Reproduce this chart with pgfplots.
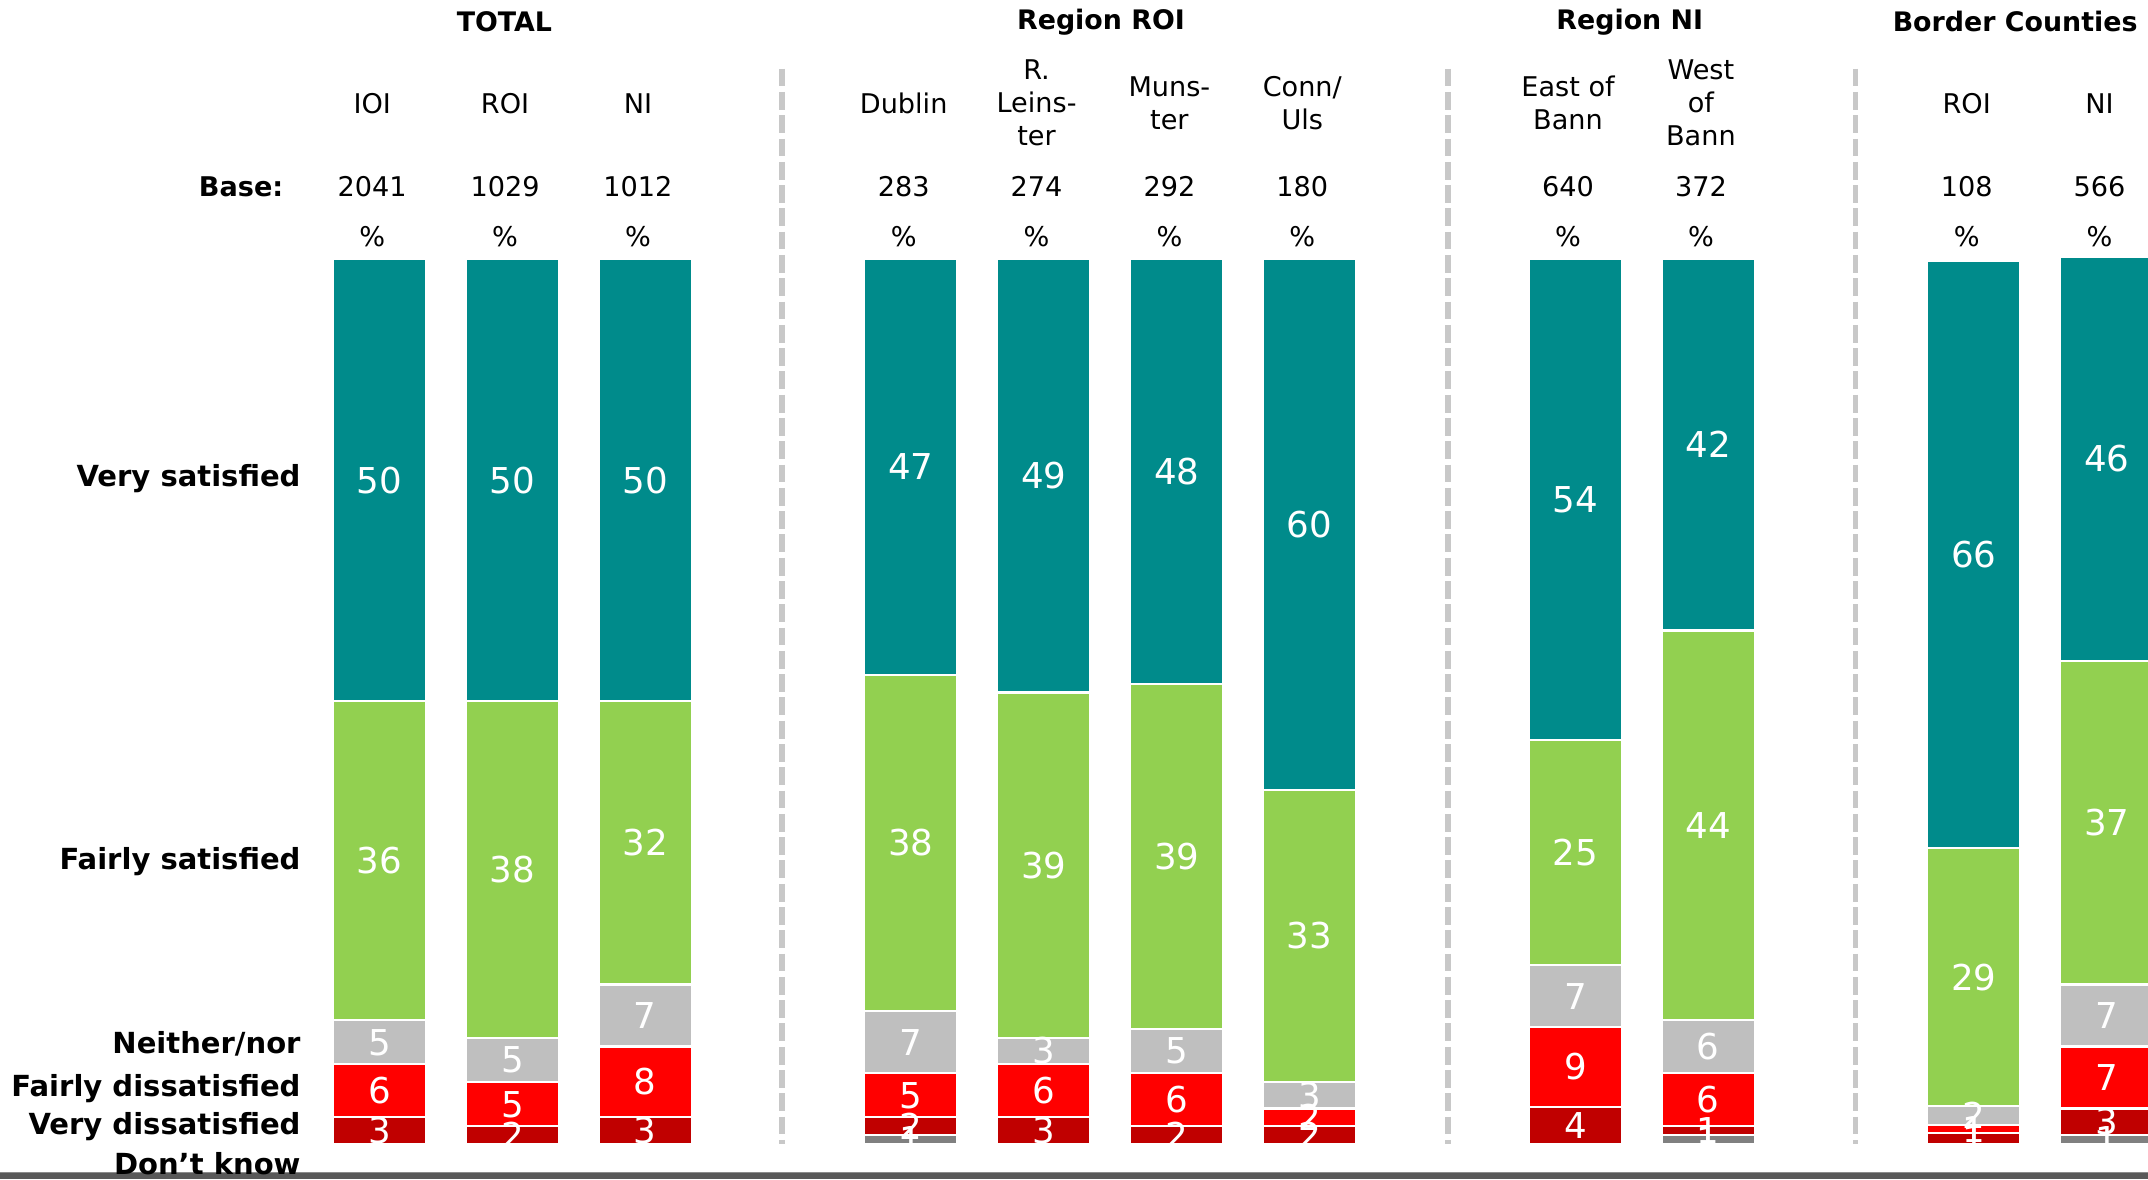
\documentclass[border=0pt]{standalone}
\usepackage{fontspec}
\setmainfont{DejaVu Sans}
\usepackage{pgfplots}
\pgfplotsset{compat=1.18}
\usepackage{pgfplotstable}
\definecolor{cVS}{HTML}{008B8B}
\definecolor{cFS}{HTML}{92D050}
\definecolor{cN}{HTML}{BFBFBF}
\definecolor{cFD}{HTML}{FF0000}
\definecolor{cVD}{HTML}{C00000}
\definecolor{cDK}{HTML}{808080}
\definecolor{sepc}{HTML}{C8C8C8}

% dkm: label value for Don't know (negative sign = label drawn shifted right)
\pgfplotstableread{
x  dk  vd  fd  nn  fs   vs    dkm
0  0   3   6   5   36   50    0
1  0   2   5   5   38   50    0
2  0   3   8   7   32   50    -0.001
4  1   2   5   7   38   47    1
5  0   3   6   3   39   49    0
6  0   2   6   5   39   48    0
7  0   2   2   3   33   60    0
9  0   4.2 9   7   25.4 54.4  0
10 1   1   6   6   44   42    1
12 0   1.2 0.9 2.2 29.1 66.4  0
13 1   3   7   7   36.6 45.6  1
}\data

\pgfplotsset{
  frame/.style={
    scale only axis,
    width=784pt, height=430.5pt,
    xmin=-2.856, xmax=13.31,
    ymin=-4.025, ymax=129.26,
    axis lines=none, ticks=none,
    ybar stacked, bar width=34pt,
  }
}

\newcommand\seglabel{%
  \raisebox{-4.75pt}[0pt][0pt]{\pgfmathprintnumber[fixed,precision=0,assume math mode=true]{\pgfplotspointmeta}}}

\newcommand\dklabel{%
  \pgfkeys{/pgf/fpu=true,/pgf/fpu/output format=fixed}%
  \pgfmathparse{(\pgfplotspointmeta<0)*26.6}\edef\tmps{\pgfmathresult}%
  \pgfmathparse{abs(\pgfplotspointmeta)}\edef\tmpv{\pgfmathresult}%
  \pgfkeys{/pgf/fpu=false}%
  \hspace*{\tmps pt}\raisebox{-4.75pt}[0pt][0pt]{\pgfmathprintnumber[fixed,precision=0,assume math mode=true]{\tmpv}}}

\newcommand\seg[2]{%
\addplot[fill=#2, draw=white, line width=0.8pt] table[x=x,y=#1]{\data};}

\newcommand\seglab[1]{%
\addplot[fill=none, draw=none,
  point meta=explicit,
  nodes near coords={\seglabel},
  every node near coord/.append style={text=white, inner sep=0pt,
      font=\fontsize{13}{13}\selectfont}
] table[x=x,y=#1,meta=#1]{\data};}

\newcommand\catlab[2]{\node[align=center,font=\fontsize{9.9}{12}\selectfont] at (axis cs:#1-0.055,117.6) {#2};}
\newcommand\baselab[2]{\node[font=\fontsize{9.9}{12}\selectfont] at (axis cs:#1-0.055,108.2) {#2};
\node[font=\fontsize{9.9}{12}\selectfont] at (axis cs:#1-0.055,102.5) {\%};}
\newcommand\rowlab[2]{\node[anchor=east,font=\bfseries\fontsize{10.6}{12}\selectfont,inner sep=0pt] at (axis cs:-0.59,#1) {#2};}
\newcommand\headlab[2]{\node[font=\bfseries\fontsize{9.8}{12}\selectfont] at (axis cs:#1,126.8) {#2};}
\newcommand\sepline[1]{\draw[color=sepc, line width=2pt, dash pattern=on 6.5pt off 2pt] (axis cs:#1,121.5) -- (axis cs:#1,0);}

\begin{document}
\begin{tikzpicture}
% bars
\begin{axis}[frame]
\path (rel axis cs:0,0) rectangle (rel axis cs:1,1);
\seg{dk}{cDK}
\seg{vd}{cVD}
\seg{fd}{cFD}
\seg{nn}{cN}
\seg{fs}{cFS}
\seg{vs}{cVS}

\sepline{3.03}
\sepline{8.04}
\sepline{11.11}

\headlab{0.94}{TOTAL}
\headlab{5.43}{Region ROI}
\headlab{9.41}{Region NI}
\headlab{12.31}{Border Counties}

\catlab{0}{IOI}
\catlab{1}{ROI}
\catlab{2}{NI}
\catlab{4}{Dublin}
\catlab{5}{R.\\Leins-\\ter}
\catlab{6}{Muns-\\ter}
\catlab{7}{Conn/\\Uls}
\catlab{9}{East of\\Bann}
\catlab{10}{West\\of\\Bann}
\catlab{12}{ROI}
\catlab{13}{NI}

\node[anchor=east,font=\bfseries\fontsize{9.9}{12}\selectfont,inner sep=0pt] at (axis cs:-0.72,108.2) {Base:};
\baselab{0}{2041}
\baselab{1}{1029}
\baselab{2}{1012}
\baselab{4}{283}
\baselab{5}{274}
\baselab{6}{292}
\baselab{7}{180}
\baselab{9}{640}
\baselab{10}{372}
\baselab{12}{108}
\baselab{13}{566}

\rowlab{75.2}{Very satisfied}
\rowlab{31.9}{Fairly satisfied}
\rowlab{11.3}{Neither/nor}
\rowlab{6.2}{Fairly dissatisfied}
\rowlab{2.0}{Very dissatisfied}
\rowlab{-2.2}{Don’t know}

\fill[black!65] (axis cs:-2.856,-4.025) rectangle (axis cs:13.31,-3.25);
\draw[black!45, line width=0.5pt] (axis cs:-2.856,-3.25) -- (axis cs:13.31,-3.25);
\end{axis}
% value labels, drawn over all bars (same frame)
\begin{axis}[frame]
\path (rel axis cs:0,0) rectangle (rel axis cs:1,1);
\addplot[fill=none, draw=none,
  point meta=explicit,
  nodes near coords={\dklabel},
  every node near coord/.append style={text=white, inner sep=0pt,
      font=\fontsize{13}{13}\selectfont}
] table[x=x,y=dk,meta=dkm]{\data};
\seglab{vd}
\seglab{fd}
\seglab{nn}
\seglab{fs}
\seglab{vs}
\end{axis}
\end{tikzpicture}
\end{document}
